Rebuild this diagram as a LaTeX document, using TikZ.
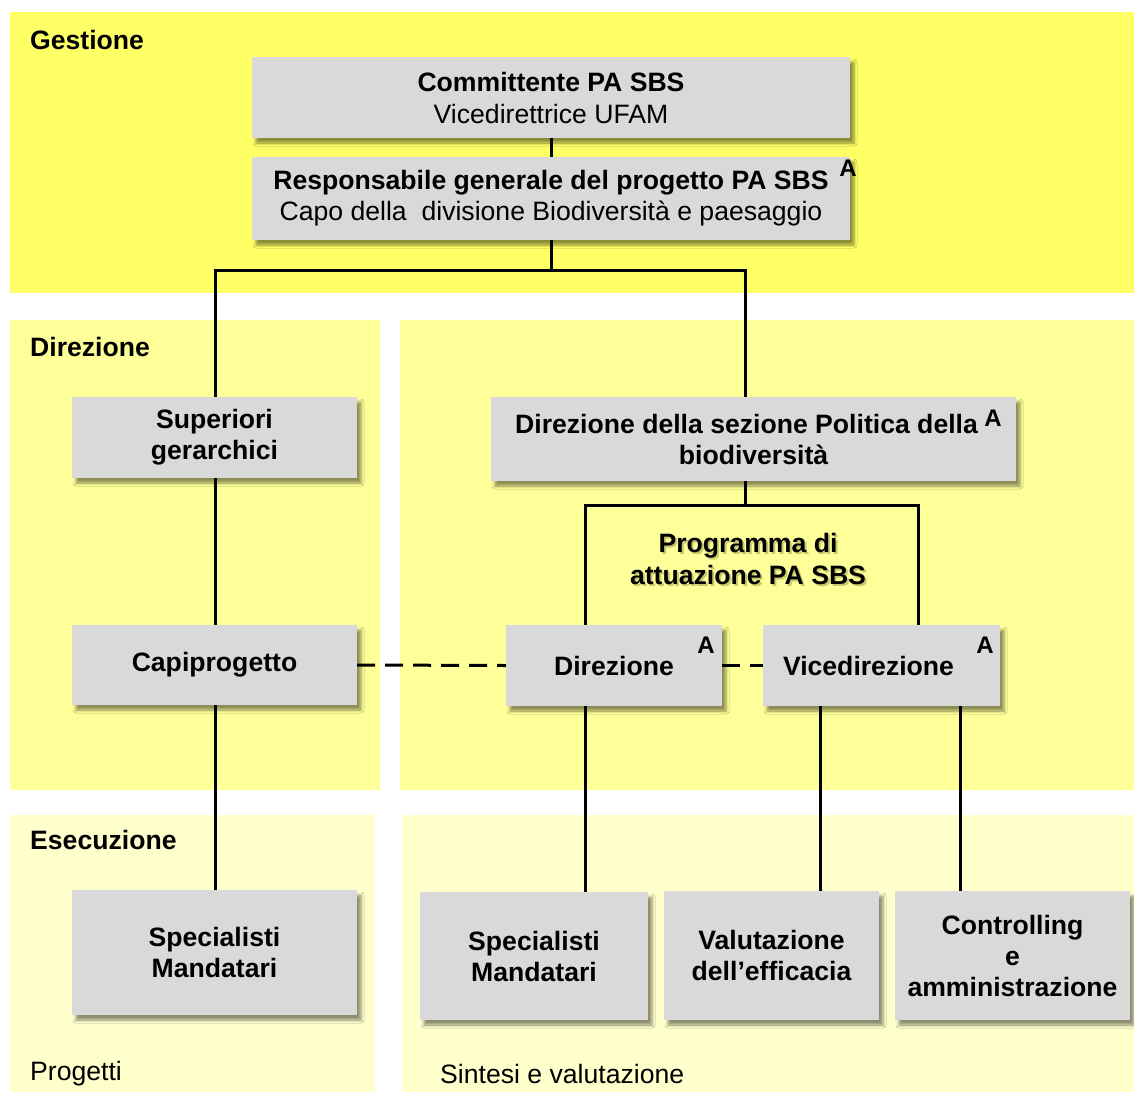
\documentclass[tikz,border=0pt]{standalone}
\usepackage{fontspec}
\setmainfont{Liberation Sans}
\usetikzlibrary{shadows,shadows.blur}
\definecolor{gest}{RGB}{255,255,102}
\definecolor{dirc}{RGB}{255,255,153}
\definecolor{esec}{RGB}{255,255,204}
\definecolor{boxgray}{RGB}{217,217,217}
\definecolor{glow}{RGB}{200,200,110}
\begin{document}
\begin{tikzpicture}[x=1pt,y=-1pt,
  box/.style={fill=boxgray, align=center, inner sep=0pt,
    font=\fontsize{26.6}{31}\selectfont\bfseries,
    blur shadow={shadow xshift=4pt, shadow yshift=-5pt, shadow blur radius=3pt, shadow opacity=45}},
  conn/.style={line width=3pt},
  dconn/.style={line width=3pt, dash pattern=on 18pt off 10pt},
  lab/.style={anchor=west, inner sep=0pt, font=\fontsize{26.6}{31}\selectfont\bfseries},
  plain/.style={anchor=west, inner sep=0pt, font=\fontsize{26.6}{31}\selectfont},
  amark/.style={inner sep=0pt, font=\fontsize{24}{28}\selectfont\bfseries}]
\useasboundingbox (0,0) rectangle (1134,1092);
\fill[white] (0,0) rectangle (1134,1092);
% panels
\fill[gest] (10,12) rectangle (1134,293);
\fill[dirc] (10,320) rectangle (380,790);
\fill[dirc] (400,320) rectangle (1134,790);
\fill[esec] (10,815) rectangle (375,1092);
\fill[esec] (402,815) rectangle (1134,1092);
% panel labels
\node[lab] (lgest) at (30,40) {Gestione};
\node[lab] (ldir) at (30,347) {Direzione};
\node[lab] (lese) at (30,840) {Esecuzione};
\node[plain] (lprog) at (30,1074) {Progetti};
\node[plain] (lsint) at (440,1074) {Sintesi e valutazione};
% boxes
\node[box, minimum width=598pt, minimum height=81pt] (comm) at (551,97.5)
  {Committente PA SBS\\[1pt]{\mdseries Vicedirettrice UFAM}};
\node[box, minimum width=598pt, minimum height=83pt] (resp) at (551,198.5)
  {Responsabile generale del progetto PA SBS\\[0pt]{\mdseries Capo della \ divisione Biodiversità e paesaggio}};
\node[box, minimum width=285pt, minimum height=81pt] (sup) at (214.5,437.5)
  {Superiori\\gerarchici};
\node[box, minimum width=525pt, minimum height=84pt] (dsez) at (753.5,439)
  {Direzione della sezione Politica della\hspace*{14pt}\\biodiversità};
\node[box, minimum width=285pt, minimum height=80pt] (capi) at (214.5,665)
  {Capiprogetto};
\node[box, minimum width=216pt, minimum height=81pt] (dir) at (614,665.5)
  {Direzione};
\node[box, minimum width=237pt, minimum height=81pt] (vice) at (881.5,665.5)
  {Vicedirezione\hspace*{26pt}};
\node[box, minimum width=285pt, minimum height=125pt] (specL) at (214.5,952.5)
  {Specialisti\\Mandatari};
\node[box, minimum width=228pt, minimum height=128pt] (specR) at (534,956)
  {Specialisti\\Mandatari};
\node[box, minimum width=215pt, minimum height=129pt] (valu) at (771.5,955.5)
  {Valutazione\\dell’efficacia};
\node[box, minimum width=235pt, minimum height=129pt] (ctrl) at (1012.5,955.5)
  {Controlling\\e\\amministrazione};
% A marks
\node[amark] (a1) at (848,168) {A};
\node[amark] (a2) at (993,418) {A};
\node[amark] (a3) at (706,645) {A};
\node[amark] (a4) at (985,645) {A};
% programme label with glow
\node[align=center, inner sep=0pt, font=\fontsize{26.6}{32}\selectfont\bfseries, text=glow] (prgs) at (750,561) {Programma di\\attuazione PA SBS};
\node[align=center, inner sep=0pt, font=\fontsize{26.6}{32}\selectfont\bfseries] (prg) at (748,559) {Programma di\\attuazione PA SBS};
% helper coordinates
\coordinate (yA) at (0,270);
\coordinate (yB) at (0,505);
\coordinate (xL) at (215,0);
\coordinate (xR) at (745,0);
\coordinate (xD) at (585,0);
\coordinate (xV) at (918,0);
\coordinate (xV1) at (820,0);
\coordinate (xV2) at (960,0);
% connectors
\draw[conn] (comm.south) -- (resp.north);
\draw[conn] (resp.south) -- (resp.south |- yA);
\draw[conn] (sup.north -| xL) -- (xL |- yA) -- (xR |- yA) -- (dsez.north -| xR);
\draw[conn] (sup.south -| xL) -- (capi.north -| xL);
\draw[conn] (capi.south -| xL) -- (specL.north -| xL);
\draw[conn] (dsez.south -| xR) -- (xR |- yB);
\draw[conn] (dir.north -| xD) -- (xD |- yB) -- (xV |- yB) -- (vice.north -| xV);
\draw[dconn] (capi.east) -- (dir.west);
\draw[dconn] (dir.east) -- (vice.west);
\draw[conn] (dir.south -| xD) -- (specR.north -| xD);
\draw[conn] (vice.south -| xV1) -- (valu.north -| xV1);
\draw[conn] (vice.south -| xV2) -- (ctrl.north -| xV2);
\end{tikzpicture}
\end{document}
